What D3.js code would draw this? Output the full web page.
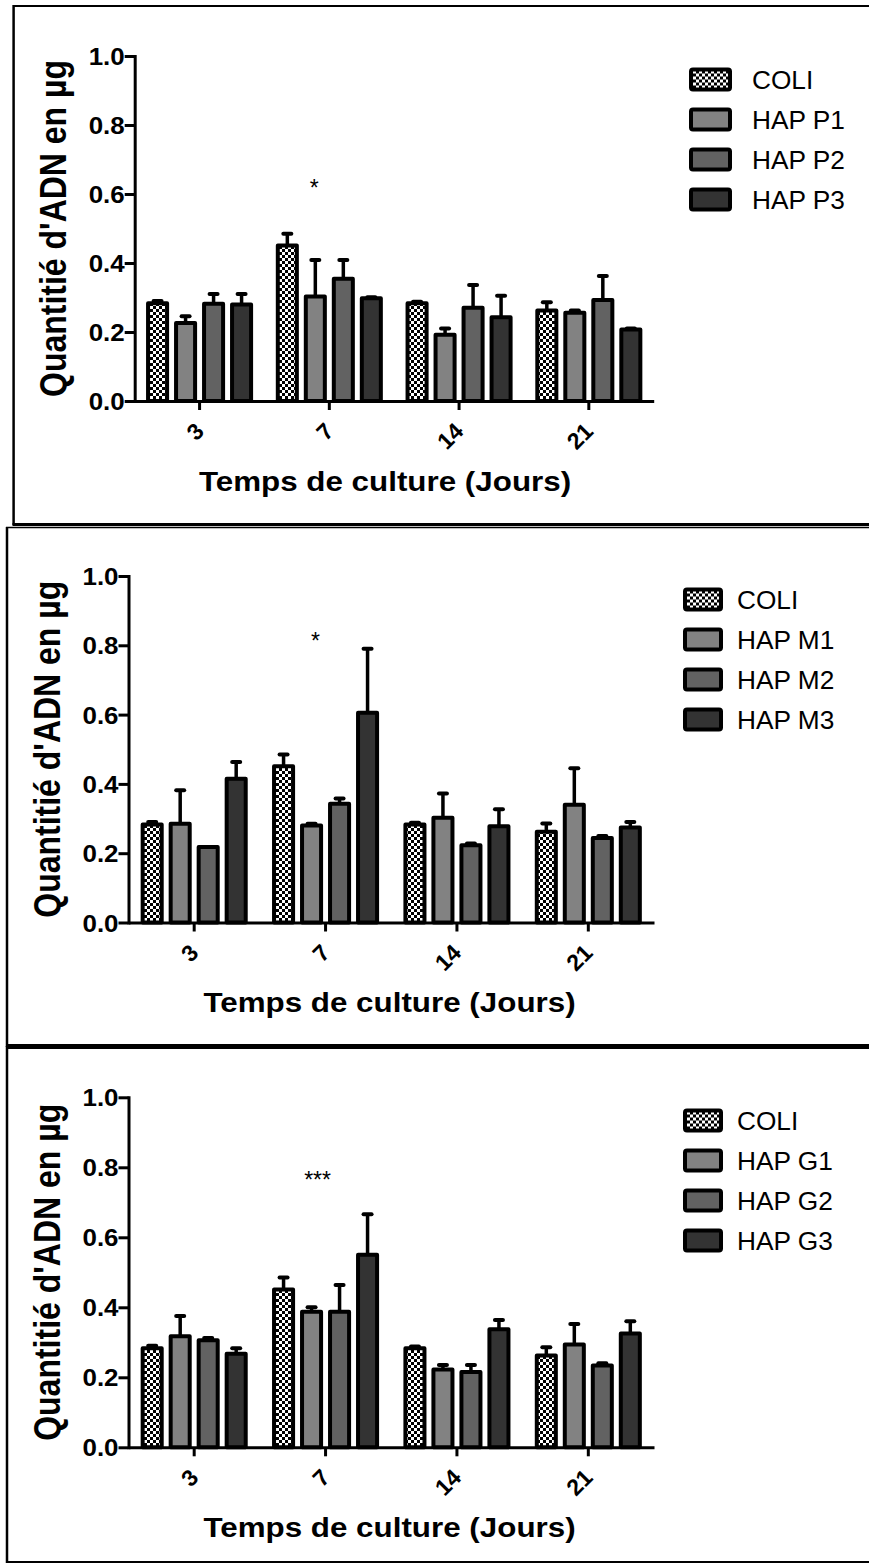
<!DOCTYPE html>
<html><head><meta charset="utf-8">
<script src="https://cdn.jsdelivr.net/npm/d3@7"></script>
<style>body{margin:0;background:#fff}svg{display:block}</style>
</head><body>
<svg id="chart" width="869" height="1566"></svg>
<script>
// ---------- DATA ----------
const days = ["3", "7", "14", "21"];
const yTickValues = [0, 0.2, 0.4, 0.6, 0.8, 1.0];
const yAxisTitle = "Quantitié d'ADN en µg";
const xAxisTitle = "Temps de culture (Jours)";

const coliMean = [0.283, 0.451, 0.283, 0.262];
const coliErr  = [0.007, 0.034, 0.005, 0.024];

const seriesP = ["COLI", "HAP P1", "HAP P2", "HAP P3"];
const hapP1Mean = [0.226, 0.303, 0.192, 0.256];
const hapP1Err  = [0.020, 0.106, 0.018, 0.006];
const hapP2Mean = [0.282, 0.354, 0.270, 0.293];
const hapP2Err  = [0.028, 0.055, 0.066, 0.069];
const hapP3Mean = [0.280, 0.298, 0.243, 0.207];
const hapP3Err  = [0.030, 0.003, 0.062, 0.003];

const seriesM = ["COLI", "HAP M1", "HAP M2", "HAP M3"];
const hapM1Mean = [0.285, 0.280, 0.302, 0.340];
const hapM1Err  = [0.097, 0.005, 0.070, 0.105];
const hapM2Mean = [0.218, 0.343, 0.223, 0.244];
const hapM2Err  = [0.000, 0.015, 0.005, 0.006];
const hapM3Mean = [0.415, 0.605, 0.278, 0.274];
const hapM3Err  = [0.048, 0.185, 0.049, 0.016];

const seriesG = ["COLI", "HAP G1", "HAP G2", "HAP G3"];
const hapG1Mean = [0.317, 0.387, 0.222, 0.294];
const hapG1Err  = [0.058, 0.013, 0.013, 0.058];
const hapG2Mean = [0.306, 0.387, 0.215, 0.234];
const hapG2Err  = [0.006, 0.077, 0.020, 0.006];
const hapG3Mean = [0.267, 0.550, 0.337, 0.325];
const hapG3Err  = [0.016, 0.116, 0.027, 0.035];

const significance = ["*", "*", "***"];   // above day 7
const significanceValue = [0.593, 0.788, 0.742];

// ---------- STYLE / LAYOUT ----------
const fills = ["url(#checker)", "#828282", "#626262", "#333333"];
const FONT = "'Liberation Sans', Arial, Helvetica, sans-serif";

const panels = [
  { series: seriesP, means: [coliMean, hapP1Mean, hapP2Mean, hapP3Mean], errs: [coliErr, hapP1Err, hapP2Err, hapP3Err],
    x0: 134.7, x1: 653.7, yTop: 56, yBot: 401, titleX: 385, titleY: 491, yTitleX: 66,
    legSwX: 689, legSwW: 39, legTxtX: 752, legY: 79.5, starDx: -15 },
  { series: seriesM, means: [coliMean, hapM1Mean, hapM2Mean, hapM3Mean], errs: [coliErr, hapM1Err, hapM2Err, hapM3Err],
    x0: 128.5, x1: 654, yTop: 576, yBot: 922.5, titleX: 389.5, titleY: 1011.5, yTitleX: 60,
    legSwX: 683, legSwW: 36, legTxtX: 737, legY: 599.5, starDx: -10 },
  { series: seriesG, means: [coliMean, hapG1Mean, hapG2Mean, hapG3Mean], errs: [coliErr, hapG1Err, hapG2Err, hapG3Err],
    x0: 128.5, x1: 654, yTop: 1097.3, yBot: 1447.3, titleX: 389.5, titleY: 1537, yTitleX: 60,
    legSwX: 683, legSwW: 36, legTxtX: 737, legY: 1120.5, starDx: -8 }
];

const frameLines = [
  {d: "M13.6,6H880", w: 2}, {d: "M13.6,5V525", w: 2.5}, {d: "M12.5,524.5H880", w: 3},
  {d: "M6,527.5H880", w: 1.5}, {d: "M7,527V1047", w: 2.5}, {d: "M6,1046.5H880", w: 5},
  {d: "M7,1046V1563", w: 2.5}, {d: "M6,1562H880", w: 2}
];

const svg = d3.select("#chart");
svg.append("rect").attr("width", 869).attr("height", 1566).attr("fill", "#fff");

const defs = svg.append("defs");
const pat = defs.append("pattern").attr("id", "checker").attr("patternUnits", "userSpaceOnUse")
  .attr("width", 6).attr("height", 6);
pat.append("rect").attr("width", 6).attr("height", 6).attr("fill", "#000");
pat.append("rect").attr("x", 0).attr("y", 0).attr("width", 3).attr("height", 3).attr("fill", "#fff");
pat.append("rect").attr("x", 3).attr("y", 3).attr("width", 3).attr("height", 3).attr("fill", "#fff");

svg.selectAll("path.frame").data(frameLines).enter().append("path")
  .attr("class", "frame").attr("d", d => d.d).attr("fill", "none")
  .attr("stroke", "#000").attr("stroke-width", d => d.w);

panels.forEach((p, pi) => {
  const g = svg.append("g");
  const x = d3.scaleBand().domain(days).range([p.x0, p.x1]).paddingInner(0).paddingOuter(0);
  const xs = d3.scaleBand().domain(p.series).range([-56, 56]).paddingInner(0.32).paddingOuter(0.16);
  const y = d3.scaleLinear().domain([0, 1]).range([p.yBot, p.yTop]);

  const rows = [];
  p.series.forEach((s, si) => days.forEach((d, di) => rows.push({ s, si, d, v: p.means[si][di], e: p.errs[si][di] })));
  const cx = r => x(r.d) + x.bandwidth() / 2 + xs(r.s) + xs.bandwidth() / 2;

  // bars
  g.selectAll("rect.bar").data(rows).enter().append("rect").attr("class", "bar")
    .attr("x", r => x(r.d) + x.bandwidth() / 2 + xs(r.s))
    .attr("width", xs.bandwidth())
    .attr("y", r => y(r.v)).attr("height", r => y(0) - y(r.v))
    .attr("fill", r => fills[r.si]).attr("stroke", "#000").attr("stroke-width", 4)
    .attr("stroke-linejoin", "round");

  // error bars (upper)
  g.selectAll("line.err").data(rows).enter().append("line").attr("class", "err")
    .attr("x1", cx).attr("x2", cx).attr("y1", r => y(r.v)).attr("y2", r => y(r.v + r.e))
    .attr("stroke", "#000").attr("stroke-width", 3.5);
  g.selectAll("line.cap").data(rows).enter().append("line").attr("class", "cap")
    .attr("x1", r => cx(r) - 4).attr("x2", r => cx(r) + 4)
    .attr("y1", r => y(r.v + r.e)).attr("y2", r => y(r.v + r.e))
    .attr("stroke", "#000").attr("stroke-width", 4).attr("stroke-linecap", "round");

  // y axis
  const ya = g.append("g").attr("transform", `translate(${p.x0},0)`)
    .call(d3.axisLeft(y).tickValues(yTickValues).tickFormat(d3.format(".1f")).tickSize(10).tickSizeOuter(0));
  ya.select(".domain").attr("stroke-width", 3).attr("stroke-linecap", "square");
  ya.selectAll(".tick line").attr("stroke-width", 3);
  ya.selectAll(".tick text").attr("x", 0).attr("dy", "0.36em")
    .attr("transform", "translate(-10,0) scale(1.08,1)")
    .attr("font-family", FONT).attr("font-weight", "bold").attr("font-size", 24).attr("fill", "#000");

  // x axis
  const xa = g.append("g").attr("transform", `translate(0,${p.yBot})`)
    .call(d3.axisBottom(x).tickSize(9).tickSizeOuter(0));
  xa.select(".domain").attr("stroke-width", 3);
  xa.selectAll(".tick line").attr("stroke-width", 3);
  xa.selectAll(".tick text").attr("x", 0).attr("y", 0).attr("dy", "0.35em")
    .attr("text-anchor", "end").attr("transform", "translate(0,26) rotate(-45)")
    .attr("font-family", FONT).attr("font-weight", "bold").attr("font-size", 23).attr("fill", "#000");

  // axis titles
  g.append("text").attr("transform", `translate(${p.titleX},${p.titleY}) scale(1.12,1)`)
    .attr("text-anchor", "middle").attr("font-family", FONT).attr("font-weight", "bold")
    .attr("font-size", 28).text(xAxisTitle);
  g.append("text").attr("transform", `translate(${p.yTitleX},${(p.yTop + p.yBot) / 2}) scale(1.15,1) rotate(-90)`)
    .attr("text-anchor", "middle").attr("font-family", FONT).attr("font-weight", "bold")
    .attr("font-size", 32).text(yAxisTitle);

  // significance
  g.append("text").attr("x", x("7") + x.bandwidth() / 2 + p.starDx).attr("y", y(significanceValue[pi]))
    .attr("text-anchor", "middle").attr("font-family", FONT).attr("font-size", 23).text(significance[pi]);

  // legend
  const lg = g.selectAll("g.leg").data(p.series).enter().append("g").attr("class", "leg")
    .attr("transform", (s, i) => `translate(0,${p.legY + 40 * i})`);
  lg.append("rect").attr("x", p.legSwX + 2).attr("y", -10).attr("width", p.legSwW).attr("height", 20)
    .attr("rx", 2).attr("fill", (s, i) => fills[i]).attr("stroke", "#000").attr("stroke-width", 4)
    .attr("stroke-linejoin", "round");
  lg.append("text").attr("transform", `translate(${p.legTxtX},9) scale(1.05,1)`)
    .attr("font-family", FONT).attr("font-size", 25).attr("fill", "#000").text(s => s);
});
</script>
</body></html>
